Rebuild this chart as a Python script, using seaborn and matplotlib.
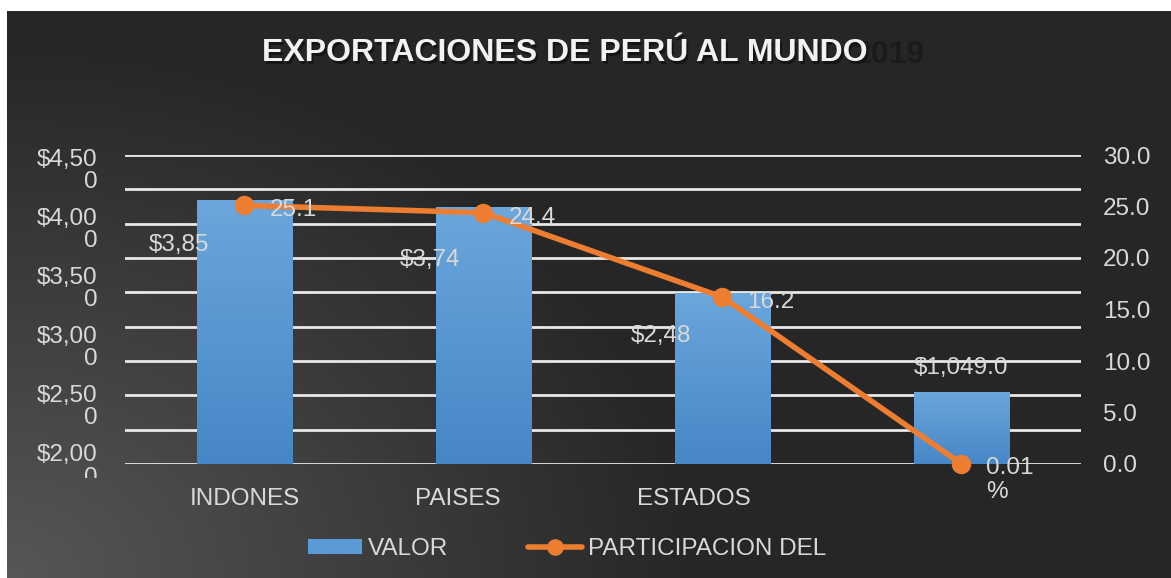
import numpy as np
import pandas as pd
import seaborn as sns
import matplotlib.pyplot as plt
from matplotlib.lines import Line2D
from matplotlib.patches import Patch
from matplotlib.colors import LinearSegmentedColormap
from matplotlib.transforms import Bbox, TransformedBbox, ScaledTranslation

# data
paises = ["INDONES", "PAISES", "ESTADOS", "OTROS"]
tick_labels = ["INDONES", "PAISES", "ESTADOS", ""]
valor = [4230, 4170, 3445, 2610]          # bar heights on the left axis
valor_labels = ["$3,85", "$3,74", "$2,48", "$1,049.0"]
participacion = [25.1, 24.4, 16.2, 0.01]
part_labels = ["25.1", "24.4", "16.2", "0.01\n%"]
left_ticks = [2000, 2500, 3000, 3500, 4000, 4500]
left_tick_labels = ["$2,00\n0", "$2,50\n0", "$3,00\n0", "$3,50\n0", "$4,00\n0", "$4,50\n0"]
right_ticks = [0, 5, 10, 15, 20, 25, 30]

sns.set_theme(style="white")
plt.rcParams["font.family"] = ["Liberation Sans", "DejaVu Sans"]
txt = "#d9d9d9"
blue = "#5b9bd5"
orange = "#ed7d31"
fs = 17.5

fig = plt.figure(figsize=(11.71, 5.78), dpi=100)
fig.patch.set_facecolor("white")

# dark gradient background (lighter towards lower left)
bg = fig.add_axes([7 / 1171, 0, 1 - 7 / 1171, 1 - 11 / 578], zorder=-10)
yy, xx = np.mgrid[0:1:300j, 0:1:600j]
d = np.sqrt((xx * 1.6) ** 2 + ((1 - yy) * 1.0) ** 2)
shade = np.clip(0.34 - 0.2 * np.clip(d, 0, 1), 0.15, 0.34)
bg.imshow(np.dstack([shade, shade, shade]), aspect="auto", extent=[0, 1, 0, 1], origin="upper")
bg.axis("off")

ax = fig.add_axes([125 / 1171, 1 - 464 / 578, (1081 - 125) / 1171, (464 - 155) / 578])
ax.patch.set_alpha(0)
df = pd.DataFrame({"pais": paises, "valor": valor, "part": participacion})
sns.barplot(data=df, x="pais", y="valor", color=blue, saturation=1, width=0.4, ax=ax,
            zorder=3, linewidth=0, edgecolor="none")

# gradient fill on bars
cmap = LinearSegmentedColormap.from_list("b", ["#4787c7", "#6ba6dc"])
grad = np.linspace(0, 1, 100).reshape(-1, 1)
for p in ax.patches:
    x0, y0, w, h = p.get_x(), p.get_y(), p.get_width(), p.get_height()
    im = ax.imshow(grad, cmap=cmap, aspect="auto", origin="lower",
                   extent=[x0, x0 + w, 2000, y0 + h], zorder=4)
    im.set_clip_path(p)
ax.set_ylim(2000, 4610)
ax.set_xlim(-0.5, 3.5)

for g in np.linspace(2000, 4610, 10):
    ax.axhline(g, color="#e8e8e8", lw=2, zorder=1)

ax.set_yticks(left_ticks)
ax.set_yticklabels(left_tick_labels, color=txt, fontsize=fs, ha="right", linespacing=1.0)
ax.set_xticks(range(4))
ax.set_xticklabels(tick_labels, color=txt, fontsize=fs)
ax.tick_params(axis="y", length=0, pad=20)
ax.tick_params(axis="x", length=0, pad=17)
ax.set_xlabel("")
ax.set_ylabel("")
for s in ax.spines.values():
    s.set_visible(False)
# bottom left label is cut off in the reference
clip = TransformedBbox(Bbox([[0, 100 / 578], [1, 1]]), fig.transFigure)
for lbl in ax.get_yticklabels():
    lbl.set_clip_on(True)
    lbl.set_clip_box(clip)
# wrapped category labels sit a bit left of their bars
for lbl, dx in zip(ax.get_xticklabels(), [0, -26, -29, 0]):
    lbl.set_transform(lbl.get_transform() + ScaledTranslation(dx / 100, 0, fig.dpi_scale_trans))

ax2 = ax.twinx()
sns.lineplot(x=np.arange(4), y=participacion, ax=ax2, color=orange, lw=4,
             marker="o", markersize=14, markeredgewidth=0, zorder=5, clip_on=False)
ax2.set_ylim(0, 30)
ax2.set_yticks(right_ticks)
ax2.set_yticklabels([f"{t:.1f}" for t in right_ticks], color=txt, fontsize=fs)
ax2.grid(False)
ax2.tick_params(axis="y", which="both", length=0, pad=16)
for s in ax2.spines.values():
    s.set_visible(False)
ax.set_zorder(2)
ax2.set_zorder(3)
ax2.set_ylabel("")

# bar value labels
bar_off = [(-66, -45), (-53, -53), (-62, -43), (0, 24)]
for i, (lab, v) in enumerate(zip(valor_labels, valor)):
    ax2.annotate(lab, xy=(i, (v - 2000) / 2610 * 30), xytext=bar_off[i], textcoords="offset pixels",
                 ha="center", va="center", color=txt, fontsize=fs, zorder=6)

# line value labels
for i, (lab, v) in enumerate(zip(part_labels, participacion)):
    ax2.annotate(lab, xy=(i, v), xytext=(25, -5 if i < 3 else -16), textcoords="offset pixels",
                 ha="left", va="center", color=txt, fontsize=fs, linespacing=1.15,
                 multialignment="left", zorder=6)

# title with shadow
fig.text(925 / 1171, 1 - 55 / 578, "2019", ha="right", va="center",
         fontsize=23, fontweight="bold", color="#1b1b1b")
fig.text(264 / 1171, 1 - 56 / 578, "EXPORTACIONES DE PERÚ AL MUNDO", ha="left", va="center",
         fontsize=23, fontweight="bold", color="#151515")
fig.text(262 / 1171, 1 - 53 / 578, "EXPORTACIONES DE PERÚ AL MUNDO", ha="left", va="center",
         fontsize=23, fontweight="bold", color="#f2f2f2")

handles = [Patch(facecolor=blue, edgecolor="none"),
           Line2D([0], [0], color=orange, lw=4, marker="o", markersize=12, markeredgewidth=0)]
fig.legend(handles, ["VALOR", "PARTICIPACION DEL"], loc="center", bbox_to_anchor=(567 / 1171, 1 - 549 / 578),
           ncol=2, frameon=False, fontsize=fs, labelcolor=txt, handlelength=2.2, handleheight=0.6,
           columnspacing=3.3, handletextpad=0.25)

fig.savefig("out.png", dpi=100)
